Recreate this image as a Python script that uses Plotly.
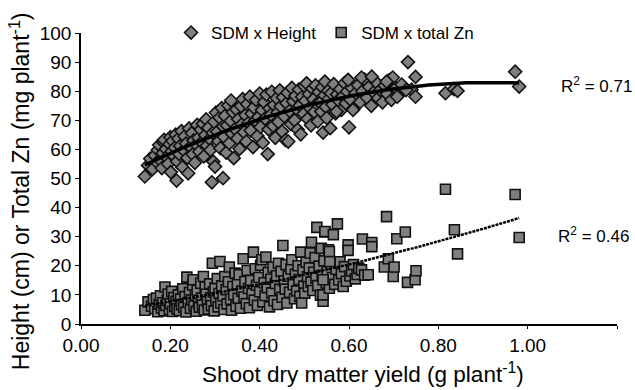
import numpy as np
import plotly.graph_objects as go

# SDM x Height (x = shoot dry matter g/plant, y = height cm)
height_x = [0.143,0.15,0.155,0.16,0.165,0.17,0.172,0.175,0.178,0.181,0.183,0.185,0.186,0.19,0.192,0.195,0.198,0.2,0.201,0.203,
    0.205,0.208,0.21,0.212,0.214,0.215,0.218,0.22,0.222,0.225,0.227,0.23,0.232,0.235,0.238,0.24,0.242,0.245,0.248,0.25,0.252,0.255,0.258,
    0.26,0.263,0.265,0.268,0.27,0.273,0.275,0.278,0.28,0.282,0.285,0.288,0.29,0.293,0.295,0.296,0.298,0.3,0.302,0.305,0.308,0.31,0.312,0.315,0.318,0.318,
    0.32,0.322,0.325,0.327,0.33,0.332,0.335,0.336,0.338,0.34,0.342,0.345,0.348,0.35,0.352,0.355,0.358,0.36,0.362,0.365,0.368,0.37,0.372,0.375,0.378,
    0.38,0.382,0.385,0.387,0.39,0.392,0.395,0.397,0.4,0.402,0.405,0.407,0.41,0.412,0.415,0.418,0.42,0.422,0.425,0.427,0.43,0.432,0.435,0.438,0.44,
    0.442,0.445,0.447,0.45,0.452,0.455,0.458,0.46,0.462,0.464,0.467,0.47,0.472,0.475,0.478,0.48,0.483,0.485,0.488,0.49,0.492,0.495,0.498,0.5,
    0.502,0.505,0.507,0.51,0.512,0.515,0.518,0.52,0.522,0.525,0.528,0.53,0.532,0.535,0.538,0.54,0.542,0.545,0.546,0.548,0.55,0.553,0.555,0.558,
    0.56,0.563,0.566,0.57,0.573,0.576,0.58,0.583,0.586,0.59,0.593,0.596,0.6,0.603,0.606,0.61,0.615,0.62,0.625,0.63,0.635,0.64,0.645,0.65,0.655,
    0.66,0.665,0.67,0.675,0.68,0.685,0.69,0.695,0.698,0.705,0.71,0.718,0.732,0.74,0.749,0.749,0.816,0.835,0.843,0.972,0.981,
    0.628,0.651,0.598,0.684,0.708,0.728,0.572,0.609]
height_y = [50.7,54.5,56.8,53.2,57.9,55.6,59.8,61.5,56.2,53.6,58.7,62.4,63.3,60.1,57.3,55.0,61.8,64.2,52.2,59.4,
    62.9,57.8,60.6,65.1,49.3,55.9,63.7,58.4,61.2,66.3,53.9,59.7,64.5,62.0,57.1,51.8,67.2,60.9,65.6,58.3,63.1,55.4,61.7,
    68.4,64.0,59.2,66.8,62.5,68.8,57.6,64.9,70.3,61.3,67.4,63.6,59.8,48.7,65.7,55.8,69.5,54.1,72.6,66.1,62.8,70.9,60.4,74.2,50.1,67.9,
    64.3,71.5,58.9,68.2,75.1,62.1,69.8,76.8,65.4,72.8,57.0,67.0,73.7,63.8,70.4,60.2,74.9,68.6,77.3,65.9,71.8,62.7,75.6,69.2,78.1,
    66.5,72.3,60.8,74.4,69.9,77.0,64.6,71.1,79.2,67.7,73.5,62.3,76.2,70.6,78.8,58.4,66.9,74.1,71.9,79.8,68.1,75.3,64.0,77.6,72.7,
    69.4,80.3,74.8,66.2,77.9,71.4,63.2,75.9,79.5,62.7,73.2,68.7,81.1,76.5,70.0,78.4,73.9,66.8,80.6,75.1,65.2,78.0,72.2,81.8,
    76.7,82.7,70.5,79.0,74.3,68.3,80.9,77.2,72.9,82.0,75.7,69.6,79.7,76.0,73.0,81.4,65.8,78.6,83.3,74.6,70.8,80.1,77.4,67.3,
    79.3,75.4,82.4,72.4,78.9,76.9,80.7,73.6,78.2,82.8,75.8,79.9,67.6,77.1,81.2,74.0,79.4,82.1,76.3,80.0,84.0,77.8,81.5,75.0,79.6,
    83.2,77.6,80.4,76.2,81.9,79.1,83.8,77.0,84.7,81.0,78.5,82.3,90.0,80.5,84.9,78.1,79.3,80.7,80.1,86.7,81.6,
    84.7,85.0,83.9,83.3,78.1,80.4,73.0,73.6]

# SDM x total Zn (x = shoot dry matter g/plant, y = total Zn mg/plant)
zn_x = [0.143,0.15,0.158,0.162,0.165,0.169,0.172,0.175,0.178,0.18,0.183,0.186,0.188,0.19,0.193,0.195,0.198,0.2,0.203,0.205,0.208,0.21,0.213,0.215,0.218,0.22,
    0.223,0.225,0.228,0.23,0.233,0.235,0.237,0.24,0.243,0.245,0.248,0.25,0.251,0.253,0.256,0.258,0.26,0.263,0.265,0.268,0.27,0.272,0.274,0.276,0.278,0.28,
    0.283,0.285,0.288,0.29,0.292,0.294,0.296,0.298,0.3,0.302,0.305,0.307,0.309,0.311,0.313,0.315,0.318,0.32,0.322,0.325,0.327,0.33,0.332,0.335,0.337,0.34,
    0.342,0.345,0.347,0.35,0.352,0.354,0.357,0.36,0.363,0.365,0.367,0.37,0.372,0.375,0.377,0.38,0.383,0.386,0.388,0.39,0.393,0.395,0.398,0.4,0.402,0.405,
    0.407,0.41,0.412,0.414,0.417,0.419,0.422,0.425,0.427,0.43,0.432,0.435,0.438,0.44,0.442,0.445,0.448,0.45,0.452,0.455,0.457,0.459,0.461,0.464,0.467,0.47,
    0.472,0.475,0.478,0.48,0.483,0.486,0.488,0.49,0.492,0.494,0.497,0.499,0.501,0.504,0.507,0.509,0.511,0.513,0.515,0.516,0.519,0.521,0.524,0.526,0.528,0.53,
    0.533,0.536,0.538,0.54,0.542,0.542,0.544,0.546,0.546,0.549,0.551,0.554,0.556,0.56,0.563,0.565,0.568,0.571,0.574,0.577,0.58,0.583,0.587,0.59,0.594,0.598,
    0.598,0.602,0.606,0.61,0.614,0.618,0.622,0.628,0.63,0.635,0.643,0.651,0.651,0.679,0.684,0.688,0.699,0.701,0.707,0.726,0.731,0.748,0.75,0.816,0.836,0.843,
    0.972,0.981,0.542,0.557,0.556]
zn_y = [4.7,7.6,6.1,8.4,5.3,8.9,4.2,6.8,9.7,5.5,7.3,4.5,12.7,6.4,8.1,10.3,5.0,7.0,11.2,4.3,9.1,6.0,7.8,5.2,10.0,4.6,
    8.6,6.6,12.1,5.7,9.4,4.1,16.1,7.4,10.8,5.4,8.3,13.4,15.2,6.2,9.9,4.4,11.6,7.1,5.8,14.0,8.9,6.5,16.3,4.8,12.7,10.2,
    7.7,5.1,13.8,9.0,6.3,20.9,11.0,4.5,12.4,8.0,15.6,5.9,10.5,21.5,7.2,13.1,9.6,5.0,16.3,11.8,6.9,14.5,19.6,8.5,4.7,12.9,
    10.1,17.5,6.1,13.7,8.8,16.9,5.4,11.3,22.4,9.3,14.6,7.0,18.4,12.2,5.6,15.0,10.4,24.7,8.2,19.0,13.3,6.4,16.0,11.1,20.2,22.1,
    7.6,14.2,9.8,23.0,12.5,17.7,5.9,15.4,10.7,19.5,8.0,13.9,16.6,6.7,20.9,11.9,18.1,9.2,27.0,14.8,12.0,20.4,7.2,16.4,10.9,18.9,
    22.1,13.5,8.7,17.1,11.4,20.0,15.3,9.5,24.7,7.2,18.6,13.0,10.6,21.2,16.2,12.9,19.3,24.4,14.4,28.1,11.5,17.8,22.8,15.8,33.2,13.2,
    19.9,9.9,26.0,16.7,7.8,10.0,21.7,31.6,31.8,14.1,18.0,25.5,12.3,20.6,16.0,30.7,13.6,18.8,34.4,15.1,21.4,17.3,12.9,19.7,14.7,27.2,
    25.3,16.5,18.2,20.4,15.5,17.0,19.1,18.6,29.2,16.8,16.9,28.0,26.6,19.6,36.9,22.4,16.3,19.6,29.3,31.6,14.3,15.2,18.3,46.3,32.4,24.1,
    44.5,29.7,15.2,21.5,24.9]

x_ticks = [0.0, 0.2, 0.4, 0.6, 0.8, 1.0, 1.2]
y_ticks = [0, 10, 20, 30, 40, 50, 60, 70, 80, 90, 100]
r2_labels = ["R<sup>2</sup> = 0.71", "R<sup>2</sup> = 0.46"]

FONT = "Liberation Sans, Arial, sans-serif"

# polynomial trendlines (order 2) fitted to the data
hx = np.array(height_x); hy = np.array(height_y)
zx = np.array(zn_x); zy = np.array(zn_y)
ch = np.polyfit(hx, hy, 2)
cz = np.polyfit(zx, zy, 2)
tx_h = np.linspace(hx.min(), hx.max(), 100)
tx_z = np.linspace(zx.min(), zx.max(), 100)

fig = go.Figure()
fig.add_trace(go.Scatter(x=height_x, y=height_y, mode="markers", name="SDM x Height",
    marker=dict(symbol="diamond", size=10, color="#7f7f7f", line=dict(color="#111111", width=1.6))))
fig.add_trace(go.Scatter(x=zn_x, y=zn_y, mode="markers", name="SDM x total Zn",
    marker=dict(symbol="square", size=10, color="#7f7f7f", line=dict(color="#111111", width=1.6))))
fig.add_trace(go.Scatter(x=tx_h, y=np.polyval(ch, tx_h), mode="lines", showlegend=False,
    line=dict(color="#000000", width=3.5), hoverinfo="skip"))
fig.add_trace(go.Scatter(x=tx_z, y=np.polyval(cz, tx_z), mode="lines", showlegend=False,
    line=dict(color="#000000", width=2.5, dash="3px,1px"), hoverinfo="skip"))

fig.add_annotation(x=0.892, xref="paper", y=82.3, yref="y", text=r2_labels[0], showarrow=False,
    xanchor="left", yanchor="middle", font=dict(family=FONT, size=17, color="#000000"))
fig.add_annotation(x=0.886, xref="paper", y=30.6, yref="y", text=r2_labels[1], showarrow=False,
    xanchor="left", yanchor="middle", font=dict(family=FONT, size=17, color="#000000"))

# axis titles placed as annotations to match the reference offsets
fig.add_annotation(x=0.526, xref="paper", y=-0.167, yref="paper",
    text="Shoot dry matter yield (g plant<sup>-1</sup>)", showarrow=False,
    xanchor="center", yanchor="middle", font=dict(family=FONT, size=22.5, color="#000000"))
fig.add_annotation(x=-0.114, xref="paper", y=0.456, yref="paper", textangle=-90,
    text="Height (cm) or Total Zn (mg plant<sup>-1</sup>)", showarrow=False,
    xanchor="center", yanchor="middle", font=dict(family=FONT, size=23, color="#000000"))

fig.update_layout(
    width=635, height=390,
    margin=dict(l=81, r=18, t=33, b=66),
    paper_bgcolor="white", plot_bgcolor="white",
    font=dict(family=FONT, color="#000000"),
    showlegend=True,
    legend=dict(orientation="h", x=0.168, xanchor="left", y=1.0, yanchor="middle",
                font=dict(family=FONT, size=17, color="#000000"), bgcolor="rgba(0,0,0,0)",
                itemwidth=30, tracegroupgap=0, traceorder="normal"),
    xaxis=dict(range=[0, 1.2], tickvals=x_ticks, tickformat=".2f", showgrid=False, zeroline=False,
               showline=True, linecolor="#000000", linewidth=1.5, ticks="outside", ticklen=3,
               tickcolor="#000000", tickfont=dict(family=FONT, size=19)),
    yaxis=dict(range=[0, 100], tickvals=y_ticks, showgrid=False, zeroline=False,
               showline=True, linecolor="#000000", linewidth=1.5, ticks="outside", ticklen=4,
               tickcolor="#000000", tickfont=dict(family=FONT, size=19)),
)

fig.write_html("out.html")
